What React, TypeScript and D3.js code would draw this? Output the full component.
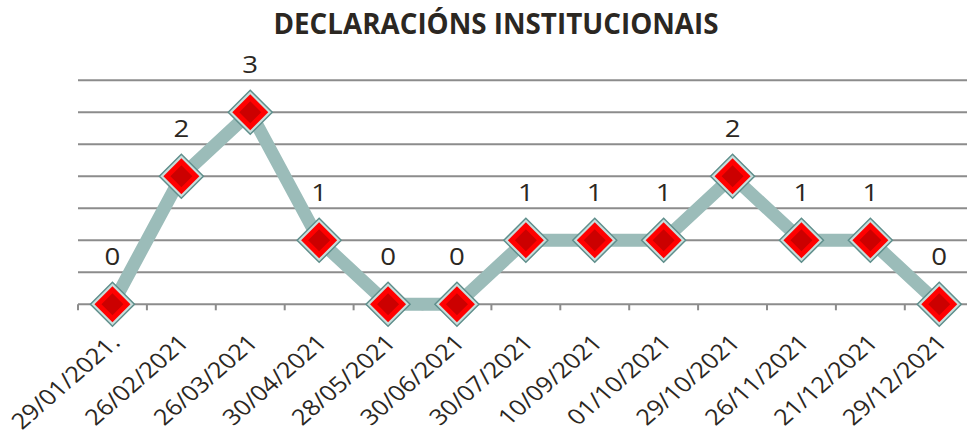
import React from "react";
import * as d3 from "d3";

const categories = [
  "29/01/2021.", "26/02/2021", "26/03/2021", "30/04/2021", "28/05/2021",
  "30/06/2021", "30/07/2021", "10/09/2021", "01/10/2021", "29/10/2021",
  "26/11/2021", "21/12/2021", "29/12/2021",
];
const values = [0, 2, 3, 1, 0, 0, 1, 1, 1, 2, 1, 1, 0];
const gridTicks = [0, 0.5, 1, 1.5, 2, 2.5, 3, 3.5];
const title = "DECLARACIÓNS INSTITUCIONAIS";

const W = 967;
const H = 438;
const FONT = "'Open Sans', 'Noto Sans', sans-serif";
const STRETCH = 1.15;

export default function App() {
  const x = d3.scaleBand<string>().domain(categories).range([78, 78 + 13 * 68.9]).padding(0);
  const y = d3.scaleLinear().domain([0, 3.5]).range([304.3, 80.3]);
  const cx = (c: string) => (x(c) as number) + x.bandwidth() / 2;
  const line = d3.line<number>().x((_, i) => cx(categories[i])).y((d) => y(d));
  const diamond = (r: number) => `M0,${-r}L${r},0L0,${r}L${-r},0Z`;
  const tickXs = d3.range(categories.length + 1).map((i) => 78 + i * x.bandwidth());

  return (
    <svg width={W} height={H} style={{ position: "absolute", left: 0, top: 0, background: "#fff" }}>
      <rect width={W} height={H} fill="#fff" />
      <text x={496} y={34} textAnchor="middle" fontFamily={FONT} fontWeight={700} fontSize={28} fill="#2b2722" textLength={445} lengthAdjust="spacingAndGlyphs">
        {title}
      </text>
      {gridTicks.map((t) => (
        <line key={t} x1={78} x2={W + 20} y1={y(t)} y2={y(t)} stroke="#8c8c8c" strokeWidth={2} />
      ))}
      {tickXs.map((tx, i) => (
        <line key={i} x1={tx} x2={tx} y1={y(0)} y2={y(0) + 6} stroke="#8c8c8c" strokeWidth={2} />
      ))}
      <path d={line(values) as string} fill="none" stroke="#9bbcb9" strokeWidth={13} strokeLinejoin="miter" />
      {values.map((v, i) => (
        <g key={i} transform={`translate(${cx(categories[i])},${y(v)})`}>
          <path d={diamond(22)} fill="#c9dedc" stroke="#5f8f8c" strokeWidth={1.5} />
          <path d={diamond(18)} fill="#ff0000" />
          <path d={diamond(11)} fill="#cc0000" />
        </g>
      ))}
      {values.map((v, i) => (
        <text key={"l" + i} transform={`translate(${cx(categories[i])},${y(v) - 39}) scale(${STRETCH},1)`} textAnchor="middle" fontFamily={FONT} fontSize={24} fill="#2b2722">
          {v}
        </text>
      ))}
      {categories.map((c) => (
        <text key={"c" + c} transform={`translate(${cx(c) + 9},${344}) scale(${STRETCH},1) rotate(-45)`} textAnchor="end" fontFamily={FONT} fontSize={22} fill="#2b2722">
          {c}
        </text>
      ))}
    </svg>
  );
}
